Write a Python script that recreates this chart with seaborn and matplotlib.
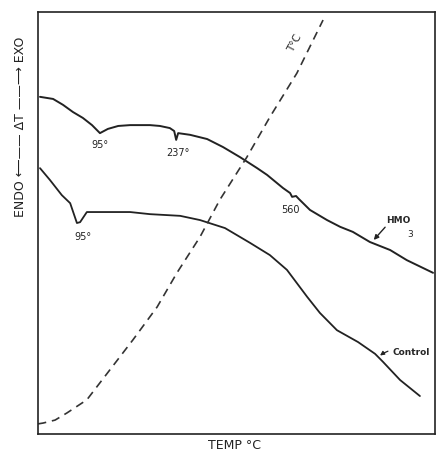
import numpy as np
import pandas as pd
import matplotlib
matplotlib.use("Agg")
import matplotlib.pyplot as plt
import seaborn as sns

# DTA traces (x = temperature scale 0-100, y = delta T 0-100)
hmo_x = [0.5, 3.8, 6.3, 8.8, 11.3, 13.6, 15.6, 16.6, 17.6, 20.2, 23.2, 28.2, 30.7, 33.2,
         34.3, 34.8, 35.3, 38.3, 42.6, 46.6, 50.9, 55.2, 57.7, 61.7, 63.5, 64.0, 65.0,
         65.7, 68.5, 72.8, 76.1, 79.3, 83.6, 88.7, 92.9, 99.5]
hmo_y = [79.9, 79.4, 78.0, 76.3, 74.9, 73.2, 71.3, 71.8, 72.3, 73.0, 73.2, 73.2, 73.0, 72.5,
         71.8, 69.7, 71.3, 70.9, 69.9, 68.0, 65.6, 63.0, 61.4, 58.3, 57.1, 56.2, 56.4,
         55.7, 53.1, 50.7, 49.1, 47.9, 45.5, 43.6, 41.2, 38.2]

control_x = [0.5, 3.0, 6.0, 8.1, 9.8, 10.6, 12.3, 14.9, 23.2, 28.2, 35.8, 40.8, 47.1, 53.4,
             58.4, 62.7, 67.8, 71.0, 75.3, 80.6, 84.9, 86.9, 91.2, 96.2]
control_y = [63.0, 60.2, 56.6, 54.7, 50.0, 50.2, 52.6, 52.6, 52.6, 52.1, 51.7, 50.7, 48.8, 45.3,
             42.4, 38.9, 32.5, 28.7, 24.6, 21.8, 19.0, 17.1, 12.8, 9.0]

temp_x = [0.0, 1.3, 4.3, 7.3, 12.3, 18.1, 23.9, 30.0, 35.0, 40.8, 45.8, 52.6, 58.4, 65.2, 71.8]
temp_y = [2.4, 2.6, 3.3, 5.0, 8.1, 15.2, 22.3, 30.1, 38.2, 46.7, 55.5, 65.6, 75.1, 85.5, 98.1]

# peak labels: text, x, y
peak_labels = ["95°", "237°", "560", "95°"]
peak_x = [15.6, 35.3, 63.5, 11.3]
peak_y = [68.5, 66.6, 53.1, 46.7]

sns.set_style("white")
plt.rcParams['font.family'] = ['DejaVu Sans']

fig = plt.figure(figsize=(4.39, 4.57), dpi=100)
ax = fig.add_axes([0.0866, 0.0503, 0.9043, 0.9234])

hmo = pd.DataFrame({"x": hmo_x, "y": hmo_y})
control = pd.DataFrame({"x": control_x, "y": control_y})
temp = pd.DataFrame({"x": temp_x, "y": temp_y})

sns.lineplot(data=hmo, x="x", y="y", sort=False, color="#222222", lw=1.4, ax=ax)
sns.lineplot(data=control, x="x", y="y", sort=False, color="#222222", lw=1.3, ax=ax)
sns.lineplot(data=temp, x="x", y="y", sort=False, color="#333333", lw=1.2,
             dashes=False, ax=ax).lines[-1].set_dashes((5, 3.5))
for ln in ax.lines:
    ln.set_solid_joinstyle("round")

for txt, px, py in zip(peak_labels, peak_x, peak_y):
    ax.text(px, py, txt, fontsize=7, ha="center", va="center", color="#222222")

# curve labels with small pointers
ax.text(90.7, 50.7, "HMO", fontsize=6.5, fontweight="bold", ha="center", va="center")
ax.text(93.7, 47.2, "3", fontsize=6.5, ha="center", va="center")
ax.annotate("", xy=(84.1, 45.5), xytext=(87.9, 49.5),
            arrowprops=dict(arrowstyle="-|>", color="#222222", lw=1.0, mutation_scale=7))
ax.annotate("Control", xy=(85.6, 18.2), xytext=(94.0, 19.4), fontsize=6.5,
            fontweight="bold", ha="center", va="center",
            arrowprops=dict(arrowstyle="-|>", color="#222222", lw=0.9, mutation_scale=6,
                            shrinkA=1, connectionstyle="arc3,rad=0.3"))
ax.text(64.7, 92.7, "T°C", fontsize=7.5, rotation=62, ha="center", va="center")

ax.set_xlim(0, 100)
ax.set_ylim(0, 100)
ax.set_xticks([])
ax.set_yticks([])
ax.set_xlabel("")
ax.set_ylabel("")
for s in ax.spines.values():
    s.set_linewidth(1.2)
    s.set_color("#222222")

fig.text(0.535, 0.026, "TEMP °C", fontsize=9, ha="center", va="center", color="#222222")
fig.text(0.046, 0.722, "ENDO ⟵—— ΔT ——⟶ EXO", fontsize=9, rotation=90,
         ha="center", va="center", color="#222222")

fig.savefig("out.png", dpi=100)
